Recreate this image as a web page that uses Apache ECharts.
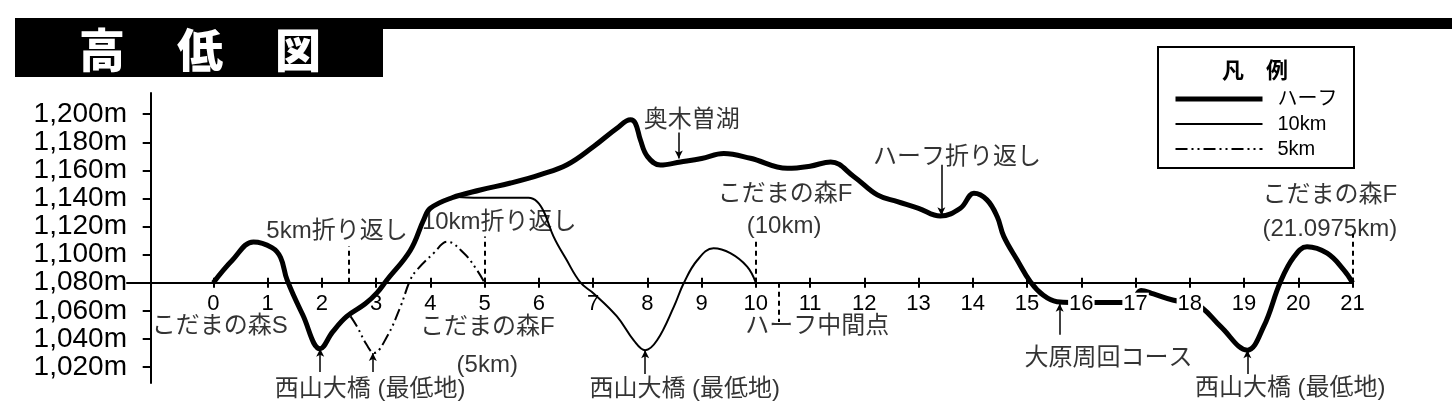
<!DOCTYPE html>
<html><head><meta charset="utf-8">
<script src="https://cdn.jsdelivr.net/npm/echarts@6/dist/echarts.min.js"></script>
<style>html,body{margin:0;padding:0;background:#fff}#c{width:1452px;height:420px}</style>
</head><body><div id="c"></div>
<script>
// ---- data (km, elevation m) ----
const halfKm   = [0,0.35,0.74,1.08,1.24,1.36,1.65,1.97,2.2,2.46,2.8,3.02,3.2,3.63,3.88,4.0,4.4,4.92,5.48,6.03,6.52,7.01,7.44,7.69,7.78,7.87,8.0,8.24,8.61,9.0,9.41,9.9,10.58,11.0,11.38,11.81,12.24,12.61,13.0,13.4,13.77,14.02,14.26,14.45,14.57,14.82,15.06,15.3,15.55,15.8,16.3,16.9,17.1,17.33,17.7,18.0,18.23,18.57,19.06,19.36,19.67,19.92,20.16,20.53,20.84,21.0];
const halfElev = [1080,1096,1109,1105,1098,1082,1057,1033,1045,1056,1065,1073,1082,1103,1125,1133,1140.5,1146,1151,1157,1164,1177,1190,1196,1193.5,1182,1170,1163.8,1166,1168.5,1172,1168.6,1161.5,1163,1166,1155.5,1142.5,1137.7,1133,1127.5,1133,1143.7,1139,1127,1113,1096,1080.7,1071,1066.5,1066,1066,1066,1074.5,1072,1067.5,1066,1062,1048.7,1032,1048.7,1080.7,1098.5,1105.6,1101,1089,1080];
const tenKm    = [4.5,4.8,5.4,5.81,5.97,6.1,6.27,6.5,6.77,7.01,7.44,7.75,7.96,8.18,8.49,8.67,8.92,9.22,9.53,9.84,10.0];
const tenElev  = [1141,1140.5,1140.5,1140.5,1137.7,1130,1113,1097,1080,1072.4,1056,1039,1032,1039,1063,1079.6,1096,1104.5,1101,1091.4,1080];
const fiveKm   = [2.53,2.65,2.83,2.96,3.2,3.45,3.63,3.75,4.06,4.31,4.62,4.86,5.0];
const fiveElev = [1056,1048.7,1035.6,1030,1041.5,1063,1082,1089,1101,1109.2,1101,1089,1080];
const xTickValues = [0,1,2,3,4,5,6,7,8,9,10,11,12,13,14,15,16,17,18,19,20,21];
const yTickValues = [1020,1040,1060,1080,1100,1120,1140,1160,1180,1200];
const seriesNames = ['ハーフ','10km','5km'];

// ---- annotation texts (anchored in km / m) ----
const labelTexts = ['こだまの森S','5km折り返し','10km折り返し','こだまの森F','(5km)','西山大橋 (最低地)','西山大橋 (最低地)','奥木曽湖','こだまの森F','(10km)','ハーフ中間点','ハーフ折り返し','大原周回コース','西山大橋 (最低地)','こだまの森F','(21.0975km)'];
const labelKm   = [0.12,2.28,5.27,5.05,5.05,2.89,8.69,8.82,10.54,10.52,11.13,13.71,16.5,19.85,20.58,20.58];
const labelElev = [1049.2,1116.8,1123.2,1048.4,1021.4,1004.3,1004.3,1195.9,1143,1120.4,1049.2,1169.5,1026.4,1005,1142.4,1118.2];
// guide lines: km, from, to, kind
const guideKm   = [2.5,5,10,21,10.42,1.97,2.94,7.96,19.06,8.58,13.42,15.6];
const guideFrom = [1080,1080,1080,1080,1080,1016.5,1016.5,1015,1015,1187,1164,1043];
const guideTo   = [1106,1113,1112,1115,1052,1033,1030,1032,1032,1168.5,1128,1065];
const guideKind = ['d','d','d','d','d','p','p','p','p','p','p','p'];

const FONT = '"Liberation Sans","Noto Sans CJK JP",sans-serif';
const pairs = (a,b) => a.map((v,i)=>[v,b[i]]);
const lineWidths = {'ハーフ':5,'10km':2,'5km':2};
const lineTypes = {'ハーフ':'solid','10km':'solid','5km':[12,4,2,4,2,4]};

const chart = echarts.init(document.getElementById('c'), null, {renderer:'canvas'});

const guideData = guideKm.map((k,i)=>{
  const dashed = guideKind[i]==='d';
  return [
    {coord:[k,guideFrom[i]], symbol:'none', lineStyle:{color:'#000', width: dashed?2:1.5, type: dashed?[5,4]:'solid'}},
    {coord:[k,guideTo[i]], symbol: dashed?'none':'arrow', symbolSize: dashed?0:[6,8]}
  ];
});

const option = {
  animation:false,
  backgroundColor:'#fff',
  grid:{left:127,right:99.4,top:93,bottom:37,containLabel:false},
  xAxis:[{
    type:'value', min:-1.591, max:21, position:'bottom', offset:-100.3, z:5,
    axisLine:{show:true,onZero:false,lineStyle:{color:'#000',width:2}},
    axisTick:{show:true,length:5,inside:false,customValues:xTickValues,lineStyle:{color:'#000',width:2}},
    axisLabel:{show:true,customValues:xTickValues,margin:10,color:'#000',fontSize:22,fontFamily:FONT,
      formatter:v=>(v>=16&&v<=18)?'{w|'+v+'}':String(v),
      rich:{w:{backgroundColor:'#fff',fontSize:22,fontFamily:FONT,color:'#000',padding:[0,1,0,1]}}},
    splitLine:{show:false}
  },{
    type:'value', min:-1.591, max:21, position:'bottom', offset:-100.3,
    axisLine:{show:false,onZero:false},
    axisTick:{show:true,length:5,inside:true,customValues:xTickValues,lineStyle:{color:'#000',width:2}},
    axisLabel:{show:false},
    splitLine:{show:false}
  }],
  yAxis:{
    type:'value', min:1008.6, max:1215.1, position:'left', offset:-23.7,
    axisLine:{show:true,onZero:false,lineStyle:{color:'#000',width:2}},
    axisTick:{show:true,length:8,inside:false,customValues:yTickValues,lineStyle:{color:'#000',width:2}},
    axisLabel:{show:true,customValues:yTickValues,margin:23.7,color:'#000',fontSize:28,fontFamily:FONT,
      formatter:v=>Math.floor(v/1000)+','+String(Math.round(v%1000)).padStart(3,'0')+'m'},
    splitLine:{show:false}
  },
  legend:{
    data:seriesNames.map(n=>({name:n,itemStyle:{opacity:0},lineStyle:{width:lineWidths[n],type:lineTypes[n],color:'#000'}})),
    orient:'vertical', left:1173, top:89, padding:0,
    itemWidth:87, itemHeight:14, itemGap:5, z:10,
    textStyle:{fontSize:20,fontFamily:FONT,color:'#000',padding:[0,0,0,10]}
  },
  graphic:[
    {type:'rect',left:15,top:18,shape:{width:368,height:59},style:{fill:'#000'}},
    {type:'rect',left:383,top:18,shape:{width:1069,height:11},style:{fill:'#000'}},
    {type:'text',x:102,y:50,style:{text:'高',fill:'#fff',font:'900 46px "Noto Sans CJK JP"',align:'center',verticalAlign:'middle'}},
    {type:'text',x:200,y:50,style:{text:'低',fill:'#fff',font:'900 46px "Noto Sans CJK JP"',align:'center',verticalAlign:'middle'}},
    {type:'text',x:298,y:50,style:{text:'図',fill:'#fff',font:'900 46px "Noto Sans CJK JP"',align:'center',verticalAlign:'middle'}},
    {type:'rect',left:1157,top:46,z:-1,shape:{width:196,height:121},style:{fill:'#fff',stroke:'#000',lineWidth:2}},
    {type:'text',x:1255,y:70,style:{text:'凡　例',fill:'#000',font:'bold 22px "Noto Sans CJK JP"',align:'center',verticalAlign:'middle'}}
  ],
  series:[
    {name:'5km',type:'line',data:pairs(fiveKm,fiveElev),showSymbol:false,symbol:'none',smooth:0.4,
      itemStyle:{color:'#000'},lineStyle:{color:'#000',width:2,type:lineTypes['5km']},z:2},
    {name:'10km',type:'line',data:pairs(tenKm,tenElev),showSymbol:false,symbol:'none',smooth:0.4,
      itemStyle:{color:'#000'},lineStyle:{color:'#000',width:2},z:3},
    {name:'ハーフ',type:'line',data:pairs(halfKm,halfElev),showSymbol:false,symbol:'none',smooth:0.4,
      itemStyle:{color:'#000'},lineStyle:{color:'#000',width:5},z:4},
    {name:'notes',type:'scatter',clip:false,silent:true,symbolSize:1,itemStyle:{color:'rgba(0,0,0,0)'},z:6,
      data:labelTexts.map((t,i)=>({name:t,value:[labelKm[i],labelElev[i]]})),
      label:{show:true,position:'inside',formatter:'{b}',color:'#000',fontSize:24,fontFamily:FONT},
      markLine:{silent:true,animation:false,symbol:['none','none'],label:{show:false},data:guideData}
    }
  ]
};
chart.setOption(option);
</script></body></html>
